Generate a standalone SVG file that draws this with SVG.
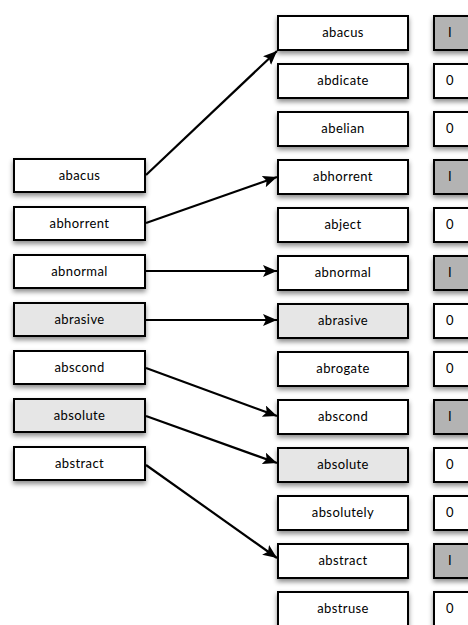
<svg xmlns="http://www.w3.org/2000/svg" width="468" height="625" viewBox="0 0 468 625">
<defs>
<filter id="sh" x="-20%" y="-30%" width="140%" height="180%">
<feDropShadow dx="0" dy="3" stdDeviation="2.5" flood-color="#000" flood-opacity="0.45"/>
</filter>
<marker id="ah" markerUnits="userSpaceOnUse" markerWidth="16" markerHeight="14" refX="14" refY="6" orient="auto">
<path d="M0,0 L14,6 L0,12 L3,6 Z" fill="#000"/>
</marker>
</defs>
<style>
rect{stroke:#000;stroke-width:2;filter:url(#sh)}
.w{fill:#fff}
.l{fill:#e6e6e6}
.g{fill:#b3b3b3}
text{font-family:"Lato","Open Sans",sans-serif;font-size:13px;letter-spacing:0.4px;fill:#000;text-anchor:middle}
.c line{stroke:#000;stroke-width:2.2;marker-end:url(#ah)}
</style>
<rect width="468" height="625" fill="#fff" style="stroke:none;filter:none"/>
<g id="left">
<g id="l-abacus"><rect class="w" x="14" y="159" width="131" height="33"/><text x="79.5" y="180">abacus</text></g>
<g id="l-abhorrent"><rect class="w" x="14" y="207" width="131" height="33"/><text x="79.5" y="228">abhorrent</text></g>
<g id="l-abnormal"><rect class="w" x="14" y="255" width="131" height="33"/><text x="79.5" y="276">abnormal</text></g>
<g id="l-abrasive"><rect class="l" x="14" y="303" width="131" height="33"/><text x="79.5" y="324">abrasive</text></g>
<g id="l-abscond"><rect class="w" x="14" y="351" width="131" height="33"/><text x="79.5" y="372">abscond</text></g>
<g id="l-absolute"><rect class="l" x="14" y="399" width="131" height="33"/><text x="79.5" y="420">absolute</text></g>
<g id="l-abstract"><rect class="w" x="14" y="447" width="131" height="33"/><text x="79.5" y="468">abstract</text></g>
</g>
<g id="mid">
<g id="m-abacus"><rect class="w" x="278" y="16" width="130" height="34"/><text x="343" y="37">abacus</text></g>
<g id="m-abdicate"><rect class="w" x="278" y="64" width="130" height="34"/><text x="343" y="85">abdicate</text></g>
<g id="m-abelian"><rect class="w" x="278" y="112" width="130" height="34"/><text x="343" y="133">abelian</text></g>
<g id="m-abhorrent"><rect class="w" x="278" y="160" width="130" height="34"/><text x="343" y="181">abhorrent</text></g>
<g id="m-abject"><rect class="w" x="278" y="208" width="130" height="34"/><text x="343" y="229">abject</text></g>
<g id="m-abnormal"><rect class="w" x="278" y="256" width="130" height="34"/><text x="343" y="277">abnormal</text></g>
<g id="m-abrasive"><rect class="l" x="278" y="304" width="130" height="34"/><text x="343" y="325">abrasive</text></g>
<g id="m-abrogate"><rect class="w" x="278" y="352" width="130" height="34"/><text x="343" y="373">abrogate</text></g>
<g id="m-abscond"><rect class="w" x="278" y="400" width="130" height="34"/><text x="343" y="421">abscond</text></g>
<g id="m-absolute"><rect class="l" x="278" y="448" width="130" height="34"/><text x="343" y="469">absolute</text></g>
<g id="m-absolutely"><rect class="w" x="278" y="496" width="130" height="34"/><text x="343" y="517">absolutely</text></g>
<g id="m-abstract"><rect class="w" x="278" y="544" width="130" height="34"/><text x="343" y="565">abstract</text></g>
<g id="m-abstruse"><rect class="w" x="278" y="592" width="130" height="34"/><text x="343" y="613">abstruse</text></g>
</g>
<g id="bits">
<g id="b0"><rect class="g" x="434" y="16" width="60" height="34"/><text x="450" y="37">I</text></g>
<g id="b1"><rect class="w" x="434" y="64" width="60" height="34"/><text x="450" y="85">0</text></g>
<g id="b2"><rect class="w" x="434" y="112" width="60" height="34"/><text x="450" y="133">0</text></g>
<g id="b3"><rect class="g" x="434" y="160" width="60" height="34"/><text x="450" y="181">I</text></g>
<g id="b4"><rect class="w" x="434" y="208" width="60" height="34"/><text x="450" y="229">0</text></g>
<g id="b5"><rect class="g" x="434" y="256" width="60" height="34"/><text x="450" y="277">I</text></g>
<g id="b6"><rect class="w" x="434" y="304" width="60" height="34"/><text x="450" y="325">0</text></g>
<g id="b7"><rect class="w" x="434" y="352" width="60" height="34"/><text x="450" y="373">0</text></g>
<g id="b8"><rect class="g" x="434" y="400" width="60" height="34"/><text x="450" y="421">I</text></g>
<g id="b9"><rect class="w" x="434" y="448" width="60" height="34"/><text x="450" y="469">0</text></g>
<g id="b10"><rect class="w" x="434" y="496" width="60" height="34"/><text x="450" y="517">0</text></g>
<g id="b11"><rect class="g" x="434" y="544" width="60" height="34"/><text x="450" y="565">I</text></g>
<g id="b12"><rect class="w" x="434" y="592" width="60" height="34"/><text x="450" y="613">0</text></g>
</g>
<g id="connectors" class="c">
<line x1="146" y1="175" x2="277" y2="51"/>
<line x1="146" y1="223" x2="277" y2="177"/>
<line x1="146" y1="271" x2="277" y2="271"/>
<line x1="146" y1="320" x2="277" y2="320"/>
<line x1="146" y1="368" x2="277" y2="416"/>
<line x1="146" y1="416" x2="277" y2="463"/>
<line x1="146" y1="465" x2="277" y2="558"/>
</g>
</svg>
